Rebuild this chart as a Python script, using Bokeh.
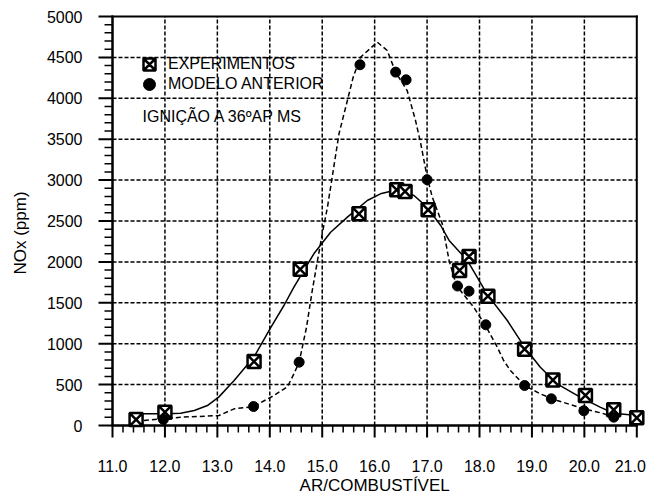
import math
from bokeh.plotting import figure
from bokeh.models import Range1d, Label, Legend, LegendItem, BoxAnnotation
from bokeh.core.properties import value
from bokeh.embed import file_html
from bokeh.resources import INLINE

# ---- data ----
exp_x = [11.45, 12.0, 13.7, 14.58, 15.7, 16.42, 16.58, 17.02, 17.62, 17.8, 18.16, 18.86, 19.4, 20.02, 20.56, 21.0]
exp_y = [73, 163, 782, 1910, 2588, 2881, 2861, 2637, 1895, 2066, 1581, 933, 555, 367, 192, 94]

mod_x = [11.97, 13.69, 14.56, 15.72, 16.4, 16.6, 17.0, 17.58, 17.8, 18.12, 18.86, 19.37, 19.99, 20.56]
mod_y = [75, 232, 774, 4410, 4320, 4226, 3005, 1705, 1642, 1231, 489, 326, 180, 102]

fit_x = [11.5, 12.0, 12.3, 12.56, 12.81, 13.03, 13.32, 13.7, 14.02, 14.27, 14.46, 14.84, 15.16, 15.48,
         15.86, 16.11, 16.43, 16.75, 17.0, 17.26, 17.42, 17.77, 18.15, 18.53, 18.86, 19.16, 19.48,
         19.92, 20.3, 20.56, 21.0]
fit_y = [145, 145, 150, 183, 244, 350, 550, 840, 1200, 1467, 1691, 2099, 2363, 2547,
         2751, 2832, 2881, 2812, 2669, 2445, 2262, 2017, 1600, 1284, 957, 713, 509,
         346, 224, 150, 122]

dash_x = [11.6, 12.0, 12.3, 13.03, 13.32, 13.69, 14.08, 14.34, 14.46, 14.56, 14.7, 14.81, 14.91, 15.0,
          15.1, 15.19, 15.26, 15.32, 15.48, 15.59, 15.73, 16.05, 16.24, 16.4, 16.62, 16.78, 16.88,
          17.0, 17.1, 17.29, 17.42, 17.56, 17.89, 18.1, 18.34, 18.46, 18.59, 18.86, 19.16, 19.48,
          19.99, 20.34, 20.56]
dash_y = [60, 85, 101, 122, 204, 232, 367, 477, 632, 774, 1200, 1650, 2017, 2343,
          2669, 3036, 3321, 3566, 3973, 4258, 4502, 4686, 4584, 4320, 4095, 3728, 3444,
          3040, 2791, 2465, 2017, 1711, 1446, 1237, 957, 795, 672, 489, 387, 306,
          204, 150, 102]

x_ticks = [11.0, 12.0, 13.0, 14.0, 15.0, 16.0, 17.0, 18.0, 19.0, 20.0, 21.0]
x_tick_labels = ["11.0", "12.0", "13.0", "14.0", "15.0", "16.0", "17.0", "18.0", "19.0", "20.0", "21.0"]
y_ticks = [0, 500, 1000, 1500, 2000, 2500, 3000, 3500, 4000, 4500, 5000]
y_tick_labels = ["0", "500", "1000", "1500", "2000", "2500", "3000", "3500", "4000", "4500", "5000"]
x_minor_step = 0.2
y_minor_step = 100
legend_labels = ["EXPERIMENTOS", "MODELO ANTERIOR"]
note_text = "IGNIÇÃO A 36ºAP MS"
x_title = "AR/COMBUSTÍVEL"
y_title = "NOx (ppm)"

FONT = "Liberation Sans"

# ---- layout: one frame covering the whole figure, axes drawn as glyphs ----
W, H = 647, 495
PPX = 52.43          # pixels per x unit
PPY = 0.0818         # pixels per y unit
X0_PX = 112          # figure px (from left) of the axes' left edge
Y0_PX = 425          # figure px (from top) of the axes' bottom edge
xmin, xmax = x_ticks[0], x_ticks[-1]
ymin, ymax = y_ticks[0], y_ticks[-1]
X_LO = xmin - X0_PX / PPX
X_HI = X_LO + W / PPX
Y_LO = ymin - (H - Y0_PX) / PPY
Y_HI = Y_LO + H / PPY

p = figure(width=W, height=H, output_backend="svg", toolbar_location=None,
           x_range=Range1d(X_LO, X_HI), y_range=Range1d(Y_LO, Y_HI),
           min_border=0, background_fill_color="white", border_fill_color="white")
p.outline_line_color = None
p.axis.visible = False
p.grid.visible = False


def dx(px):
    return px / PPX


def dy(px):
    return px / PPY


# grid (dashed), bounded to the axes box
gx = x_ticks[1:-1]
gy = y_ticks[1:-1]
p.segment(x0=gx, x1=gx, y0=[ymin] * len(gx), y1=[ymax] * len(gx),
          line_color="black", line_width=1.5, line_dash="4 2")
p.segment(x0=[xmin] * len(gy), x1=[xmax] * len(gy), y0=gy, y1=gy,
          line_color="black", line_width=1.5, line_dash="4 2")

# ticks (outward): minor ticks every step, major at labelled values
nx = int(round((xmax - xmin) / x_minor_step))
x_minor = [xmin + i * x_minor_step for i in range(nx + 1) if i % 5 != 0]
ny = int(round((ymax - ymin) / y_minor_step))
y_minor = [ymin + i * y_minor_step for i in range(ny + 1) if i % 5 != 0]

p.quad(left=[t - dx(1) for t in x_ticks], right=[t + dx(1) for t in x_ticks],
       bottom=[ymin - dy(12)] * len(x_ticks), top=[ymin] * len(x_ticks),
       fill_color="black", line_color=None)
p.quad(left=[t - dx(0.75) for t in x_minor], right=[t + dx(0.75) for t in x_minor],
       bottom=[ymin - dy(7)] * len(x_minor), top=[ymin] * len(x_minor),
       fill_color="black", line_color=None)
p.quad(left=[xmin - dx(14)] * len(y_ticks), right=[xmin] * len(y_ticks),
       bottom=[t - dy(1) for t in y_ticks], top=[t + dy(1) for t in y_ticks],
       fill_color="black", line_color=None)
p.quad(left=[xmin - dx(8)] * len(y_minor), right=[xmin] * len(y_minor),
       bottom=[t - dy(0.75) for t in y_minor], top=[t + dy(0.75) for t in y_minor],
       fill_color="black", line_color=None)

# axes box (filled strips, 2 px)
p.quad(left=[xmin - dx(1), xmin - dx(1), xmin - dx(1), xmax - dx(1)],
       right=[xmax + dx(1), xmax + dx(1), xmin + dx(1), xmax + dx(1)],
       bottom=[ymin - dy(1), ymax - dy(1), ymin - dy(1), ymin - dy(1)],
       top=[ymin + dy(1), ymax + dy(1), ymax + dy(1), ymax + dy(1)],
       fill_color="black", line_color=None)
p.add_layout(BoxAnnotation(left=xmin - dx(1), right=xmin + dx(1), bottom=ymin, top=ymax,
                           fill_color="black", fill_alpha=1, line_color=None, level="underlay"))
p.add_layout(BoxAnnotation(left=xmin, right=xmax, bottom=ymin - dy(1), top=ymin + dy(1),
                           fill_color="black", fill_alpha=1, line_color=None, level="underlay"))

# tick labels and titles (last x label nudged left so it stays inside the figure)
p.text(x=x_ticks[:-1], y=[ymin - dy(40)] * (len(x_ticks) - 1), text=x_tick_labels[:-1],
       text_font=value(FONT), text_font_size=value("16px"), text_color="black",
       text_align="center", text_baseline="middle")
p.text(x=[x_ticks[-1] + dx(9)], y=[ymin - dy(40)], text=[x_tick_labels[-1]],
       text_font=value(FONT), text_font_size=value("16px"), text_color="black",
       text_align="right", text_baseline="middle")
p.text(x=[xmin - dx(30)] * len(y_ticks), y=y_ticks, text=y_tick_labels,
       text_font=value(FONT), text_font_size=value("16px"), text_color="black",
       text_align="right", text_baseline="middle")
p.text(x=[(xmin + xmax) / 2], y=[ymin - dy(60)], text=[x_title],
       text_font=value(FONT), text_font_size=value("17px"), text_color="black",
       text_align="center", text_baseline="middle")
p.text(x=[xmin - dx(92)], y=[(ymin + ymax) / 2 - dy(12)], text=[y_title], angle=math.pi / 2,
       text_font=value(FONT), text_font_size=value("17px"), text_color="black",
       text_align="center", text_baseline="middle")

# curves
p.line(fit_x, fit_y, line_color="black", line_width=1.5)
p.line(dash_x, dash_y, line_color="black", line_width=1.5, line_dash="5 3")

sq = p.scatter(exp_x, exp_y, marker="square_x", size=13, fill_color="white",
               line_color="black", line_width=2.5)
ci = p.scatter(mod_x, mod_y, marker="circle", size=10, fill_color="black",
               line_color="black", line_width=1)

# legend (two one-row legends so the rows sit 20 px apart)
for item, rend, vy in ((legend_labels[0], sq, 416), (legend_labels[1], ci, 396)):
    lg = Legend(items=[LegendItem(label=item, renderers=[rend])],
                location=(134, vy), glyph_width=30, glyph_height=30,
                label_standoff=4, padding=0, margin=0, border_line_color=None,
                background_fill_alpha=0, label_text_font=FONT,
                label_text_font_size="16px", label_text_color="black",
                label_height=20, label_text_baseline="middle")
    p.add_layout(lg, "center")

p.add_layout(Label(x=142, y=379, x_units="screen", y_units="screen", text=note_text,
                   text_font=FONT, text_font_size="16px", text_color="black",
                   text_baseline="middle", text_align="left"))

open("out.html", "w").write(file_html(p, INLINE))
